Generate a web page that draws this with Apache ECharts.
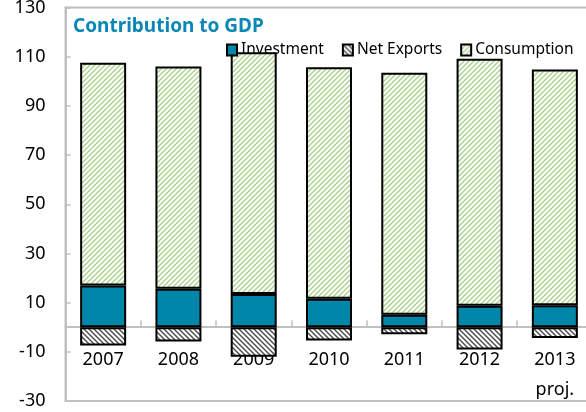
<!DOCTYPE html>
<html>
<head>
<meta charset="utf-8">
<script src="https://cdn.jsdelivr.net/npm/echarts@6/dist/echarts.min.js"></script>
<style>
html,body{margin:0;padding:0;background:#fff;}
#chart{width:586px;height:412px;}
</style>
</head>
<body>
<div id="chart"></div>
<script>
const categories = ['2007', '2008', '2009', '2010', '2011', '2012', '2013\nproj.'];
const investment = [17.0, 15.6, 13.5, 11.6, 5.1, 8.7, 8.9];
const netExports = [-7.4, -5.8, -12.0, -5.4, -2.9, -9.1, -4.4];
const consumption = [90.5, 90.4, 98.3, 94.1, 98.4, 100.5, 95.9];
const yTicks = { min: -30, max: 130, step: 20 };

function hatch(color, dir, s, lw) {
  const c = document.createElement('canvas');
  c.width = s; c.height = s;
  const g = c.getContext('2d');
  g.fillStyle = '#fff';
  g.fillRect(0, 0, s, s);
  g.strokeStyle = color;
  g.lineWidth = lw;
  g.beginPath();
  if (dir === '/') {
    g.moveTo(-1, s + 1); g.lineTo(s + 1, -1);
    g.moveTo(-1, 1); g.lineTo(1, -1);
    g.moveTo(s - 1, s + 1); g.lineTo(s + 1, s - 1);
  } else {
    g.moveTo(-1, -1); g.lineTo(s + 1, s + 1);
    g.moveTo(-1, s - 1); g.lineTo(1, s + 1);
    g.moveTo(s - 1, -1); g.lineTo(s + 1, 1);
  }
  g.stroke();
  return c;
}

const greenPat = { image: hatch('#a9d18e', '/', 5, 1.4), repeat: 'repeat' };
const grayPat = { image: hatch('#4a4a4a', '\\', 5, 1.4), repeat: 'repeat' };

const font = 'Noto Sans';
const chart = echarts.init(document.getElementById('chart'), null, { renderer: 'canvas' });
chart.setOption({
  animation: false,
  backgroundColor: '#fff',
  title: {
    text: 'Contribution to GDP',
    left: 68, top: 12,
    textStyle: { fontFamily: font, fontSize: 19, fontWeight: 'bold', color: '#0a87b5' }
  },
  legend: {
    left: 221, top: 37,
    itemWidth: 10, itemHeight: 11, itemGap: 18,
    icon: 'rect',
    textStyle: { fontFamily: font, fontSize: 15.5, color: '#000', padding: [0, 0, 0, -1] },
    data: ['Investment', 'Net Exports', 'Consumption']
  },
  grid: {
    left: 65.5, top: 7.5, width: 527, height: 393.5,
    outerBoundsMode: 'none', containLabel: false,
    show: true, borderColor: '#c0c0c0', borderWidth: 2, backgroundColor: 'transparent'
  },
  xAxis: {
    type: 'category',
    data: categories,
    axisLine: { onZero: true, lineStyle: { color: '#c0c0c0', width: 2 } },
    axisTick: { show: true, inside: true, length: 7, alignWithLabel: false, lineStyle: { color: '#c0c0c0', width: 1.5 } },
    axisLabel: {
      interval: 0, hideOverlap: false,
      fontFamily: font, fontSize: 18, color: '#000', margin: -56,
      formatter: function (v) { return v.split('\n').map(function (s) { return '{p|' + s + '}'; }).join('\n'); },
      rich: { p: { fontFamily: font, fontSize: 18, color: '#000', lineHeight: 30 } }
    },
    z: 0
  },
  yAxis: {
    type: 'value',
    min: yTicks.min, max: yTicks.max, interval: yTicks.step,
    splitLine: { show: false },
    axisLine: { show: true, lineStyle: { color: '#c0c0c0', width: 2 } },
    axisTick: { show: true, inside: true, length: 5, lineStyle: { color: '#c0c0c0', width: 1.5 } },
    axisLabel: { fontFamily: font, fontSize: 18, color: '#000', margin: 20 }
  },
  series: [
    {
      name: 'Investment', type: 'bar', stack: 'gdp', barWidth: 46,
      data: investment,
      itemStyle: { color: '#0086a9', borderColor: '#000', borderWidth: 2 }
    },
    {
      name: 'Net Exports', type: 'bar', stack: 'gdp', barWidth: 46,
      data: netExports,
      itemStyle: { color: grayPat, borderColor: '#000', borderWidth: 2 }
    },
    {
      name: 'Consumption', type: 'bar', stack: 'gdp', barWidth: 46,
      data: consumption,
      itemStyle: { color: greenPat, borderColor: '#000', borderWidth: 2 }
    }
  ]
});
</script>
</body>
</html>
